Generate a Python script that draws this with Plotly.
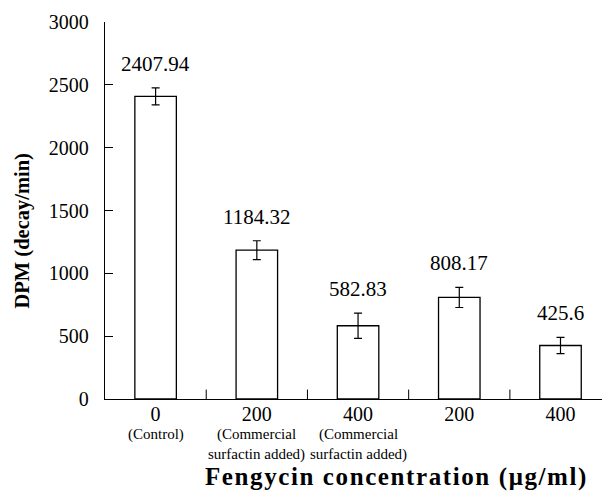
import plotly.graph_objects as go

positions = [0, 1, 2, 3, 4]
tick_main = ["0", "200", "400", "200", "400"]
tick_sub = ["(Control)", "(Commercial<br>surfactin added)", "(Commercial<br>surfactin added)", "", ""]
values = [2407.94, 1184.32, 582.83, 808.17, 425.6]
value_labels = ["2407.94", "1184.32", "582.83", "808.17", "425.6"]
errors = [68, 75, 100, 80, 65]
y_ticks = [0, 500, 1000, 1500, 2000, 2500, 3000]

FONT = "Liberation Serif"

fig = go.Figure()
fig.add_trace(go.Bar(
    x=positions, y=values, width=0.41,
    marker=dict(color="white", line=dict(color="black", width=1.3)),
    error_y=dict(type="data", array=errors, color="black", thickness=1.2, width=4),
    showlegend=False,
))

for x, v, e, lab in zip(positions, values, errors, value_labels):
    fig.add_annotation(x=x, y=v + e, text=lab, showarrow=False, yanchor="bottom",
                       yshift=10, font=dict(family=FONT, size=21, color="black"))

for x, s in zip(positions, tick_sub):
    if s:
        fig.add_annotation(x=x, y=0, xref="x", yref="paper", text=s, showarrow=False,
                           yanchor="top", yshift=-25, align="center",
                           font=dict(family=FONT, size=15, color="black"))

boundaries = [p + 0.5 for p in positions[:-1]]
for b in boundaries:
    fig.add_shape(type="line", x0=b, x1=b, xref="x", yref="paper", y0=0, y1=0.025,
                  line=dict(color="black", width=1))

fig.add_annotation(
    x=0.587, y=0, xref="paper", yref="paper", yanchor="top", yshift=-62, showarrow=False,
    text="<span style='letter-spacing:1.6px'><b>Fengycin concentration (μg/ml)</b></span>",
    font=dict(family=FONT, size=25, color="black"),
)

fig.add_annotation(
    x=-0.165, y=0.5, xref="paper", yref="paper", xanchor="center", yanchor="middle",
    textangle=-90, showarrow=False, text="<b>DPM (decay/min)</b>", yshift=-20,
    font=dict(family=FONT, size=20.5, color="black"),
)

fig.update_layout(
    width=602, height=493,
    margin=dict(l=105, r=0, t=22, b=94),
    plot_bgcolor="white", paper_bgcolor="white",
    font=dict(family=FONT, color="black", size=20),
    xaxis=dict(
        range=[-0.5, 4.41], tickmode="array", tickvals=positions, ticktext=tick_main,
        ticks="", showline=True, linecolor="black", linewidth=1.3, showgrid=False,
        zeroline=False, tickfont=dict(family=FONT, size=20), ticklabelstandoff=-3,
    ),
    yaxis=dict(
        range=[0, 3000], tickmode="array", tickvals=y_ticks, ticks="inside", ticklen=8,
        tickcolor="black", tickwidth=1, showline=True, linecolor="black", linewidth=1.3,
        showgrid=False, zeroline=False, tickfont=dict(family=FONT, size=20),
        ticklabelstandoff=11,
    ),
)

fig.write_html("out.html")
